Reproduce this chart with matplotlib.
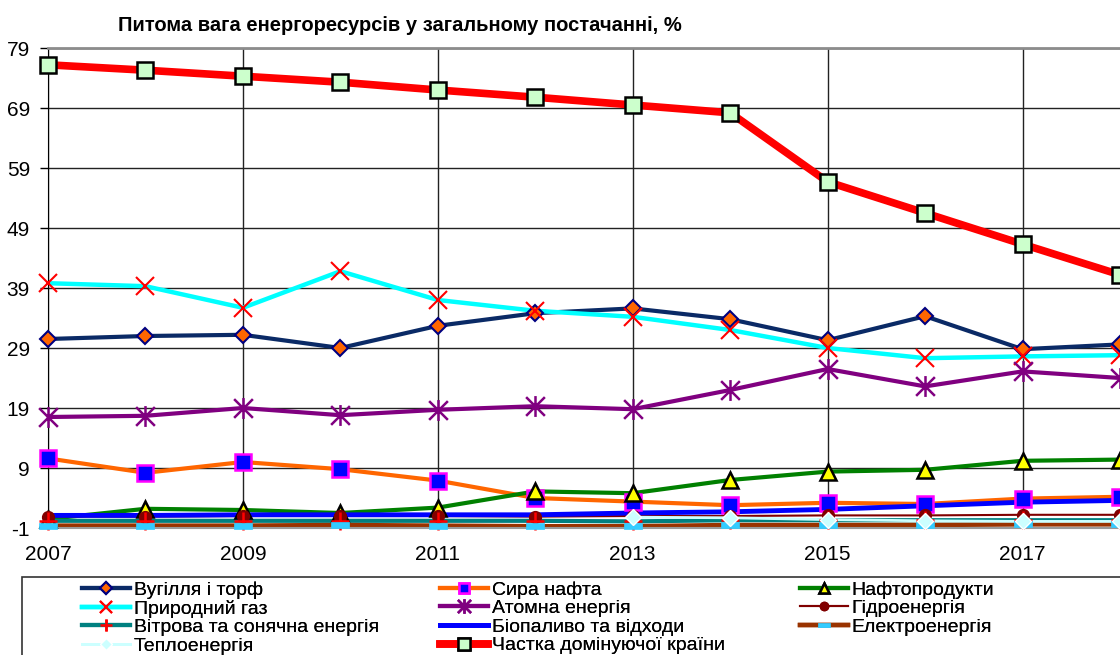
import numpy as np
import matplotlib
matplotlib.use("Agg")
import matplotlib.pyplot as plt
from matplotlib.lines import Line2D
from matplotlib.path import Path
from matplotlib.patches import Rectangle

plt.rcParams['font.family'] = ['Liberation Sans', 'DejaVu Sans']
plt.rcParams['axes.unicode_minus'] = False

years = list(range(2007, 2019))
coal = [30.5, 31.0, 31.2, 29.0, 32.7, 34.8, 35.6, 33.8, 30.3, 34.3, 28.8, 29.6]
crude_oil = [10.6, 8.2, 10.0, 8.8, 6.9, 4.0, 3.4, 2.8, 3.2, 3.0, 3.9, 4.2]
oil_products = [0.5, 2.2, 2.0, 1.5, 2.4, 5.1, 4.8, 7.0, 8.4, 8.7, 10.2, 10.4]
natural_gas = [39.8, 39.3, 35.7, 41.8, 37.0, 35.2, 34.2, 32.0, 29.0, 27.3, 27.6, 27.8]
nuclear = [17.5, 17.7, 19.0, 17.8, 18.7, 19.3, 18.8, 22.0, 25.5, 22.6, 25.1, 24.0]
hydro = [0.9, 0.9, 1.0, 1.0, 1.0, 0.9, 1.0, 1.0, 1.1, 1.1, 1.2, 1.2]
wind_solar = [0.2, 0.2, 0.2, 0.2, 0.2, 0.2, 0.1, 0.3, 0.3, 0.3, 0.3, 0.3]
biofuel = [1.1, 1.1, 1.2, 1.2, 1.2, 1.2, 1.5, 1.7, 2.1, 2.7, 3.3, 3.6]
electricity = [-0.6, -0.6, -0.6, -0.5, -0.6, -0.7, -0.7, -0.5, -0.5, -0.5, -0.4, -0.4]
heat = [np.nan, np.nan, np.nan, np.nan, np.nan, np.nan, 0.8, 0.7, 0.4, 0.2, 0.1, 0.1]
dominant = [76.2, 75.3, 74.3, 73.3, 72.0, 70.8, 69.5, 68.2, 56.7, 51.5, 46.3, 41.2]

title = "Питома вага енергоресурсів у загальному постачанні, %"
x_ticks = [2007, 2009, 2011, 2013, 2015, 2017]
y_ticks = list(range(-1, 80, 10))

# custom markers: excel-like star and flat dash
star = Path([(0, -1), (0, 1), (-0.9, -0.9), (0.9, 0.9), (-0.9, 0.9), (0.9, -0.9)],
            [Path.MOVETO, Path.LINETO] * 3)
dash = [(-1, -0.32), (1, -0.32), (1, 0.32), (-1, 0.32), (-1, -0.32)]

# name, values, line style, marker style
series = [
    ("Вугілля і торф", coal, dict(color="#0A2A66", lw=3),
     dict(marker="D", ms=8.5, mfc="#FF6600", mec="#000080", mew=1.5)),
    ("Сира нафта", crude_oil, dict(color="#FF6600", lw=3),
     dict(marker="s", ms=11, mfc="#0000FF", mec="#FF00FF", mew=1.8)),
    ("Нафтопродукти", oil_products, dict(color="#008000", lw=3),
     dict(marker="^", ms=11, mfc="#FFFF00", mec="#000000", mew=1.8)),
    ("Природний газ", natural_gas, dict(color="#00FFFF", lw=3.2),
     dict(marker="x", ms=13, mfc="none", mec="#FF0000", mew=1.5)),
    ("Атомна енергія", nuclear, dict(color="#800080", lw=3),
     dict(marker=star, ms=15, mfc="none", mec="#800080", mew=1.8)),
    ("Гідроенергія", hydro, dict(color="#800000", lw=1.5),
     dict(marker="o", ms=8.5, mfc="#800000", mec="#800000", mew=1)),
    ("Вітрова та сонячна енергія", wind_solar, dict(color="#008080", lw=3),
     dict(marker="+", ms=13, mfc="none", mec="#FF0000", mew=1.8)),
    ("Біопаливо та відходи", biofuel, dict(color="#0000FF", lw=3.5),
     dict(marker="None")),
    ("Електроенергія", electricity, dict(color="#993300", lw=3.2),
     dict(marker=dash, ms=13, mfc="#33CCFF", mec="#33CCFF", mew=0.5)),
    ("Теплоенергія", heat, dict(color="#CCFFFF", lw=2),
     dict(marker="D", ms=8.5, mfc="#CCFFFF", mec="#FFFFFF", mew=1)),
    ("Частка домінуючої країни", dominant, dict(color="#FF0000", lw=5.5),
     dict(marker="s", ms=11.5, mfc="#CCFFCC", mec="#000000", mew=1.8)),
]

fig = plt.figure(figsize=(11.2, 6.55), dpi=100)
ax = fig.add_axes([48 / 1120, 1 - 528 / 655, 1 - 48 / 1120, 480 / 655])

# lines first, then markers on top (as excel does)
for i, (name, vals, ls, ms) in enumerate(series):
    ax.plot(years, vals, solid_capstyle="butt", zorder=2 + i * 0.01, clip_on=False, **ls)
for i, (name, vals, ls, ms) in enumerate(series):
    ax.plot(years, vals, ls="none", zorder=3 + i * 0.01, clip_on=False, **ms)

ax.set_xlim(2007, 2018)
ax.set_ylim(-1, 79)
ax.set_xticks(x_ticks)
ax.set_yticks(y_ticks)
ax.grid(True, color="#222222", lw=1)
ax.set_axisbelow(True)
ax.tick_params(axis="y", labelsize=15, length=6, width=1, pad=7, direction="out")
ax.tick_params(axis="x", labelsize=15, length=0, pad=12)
ax.spines["left"].set_color("#000000")
ax.spines["top"].set_color("#8C8C8C")
ax.spines["top"].set_linewidth(2)
ax.spines["bottom"].set_color("#9A9A9A")
ax.spines["bottom"].set_linewidth(1.5)
ax.spines["right"].set_visible(False)

fig.text(118 / 1120, 1 - 31 / 655, title, fontsize=14.5, fontweight="bold",
         ha="left", va="baseline")

# legend frame (runs past the right and bottom edge)
fig.patches.append(Rectangle((22 / 1120, -0.05), 1.2, 1 - 577 / 655 + 0.05,
                             transform=fig.transFigure, fill=False,
                             ec="#333333", lw=1.2))

handles = []
for name, vals, ls, ms in series:
    handles.append(Line2D([], [], label=name, **ls, **ms))

columns = [[0, 3, 6, 9], [1, 4, 7, 10], [2, 5, 8]]
col_x = [82, 440, 800]
for cx, idx in zip(col_x, columns):
    leg = fig.legend(handles=[handles[k] for k in idx], loc="upper left",
                     bbox_to_anchor=(cx / 1120, 1 - 581 / 655), frameon=False,
                     fontsize=14, handlelength=2.45, handletextpad=0.2,
                     labelspacing=0.05, borderpad=0, borderaxespad=0,
                     markerscale=0.7, numpoints=1)
    fig.add_artist(leg)

fig.savefig("out.png", dpi=100)
